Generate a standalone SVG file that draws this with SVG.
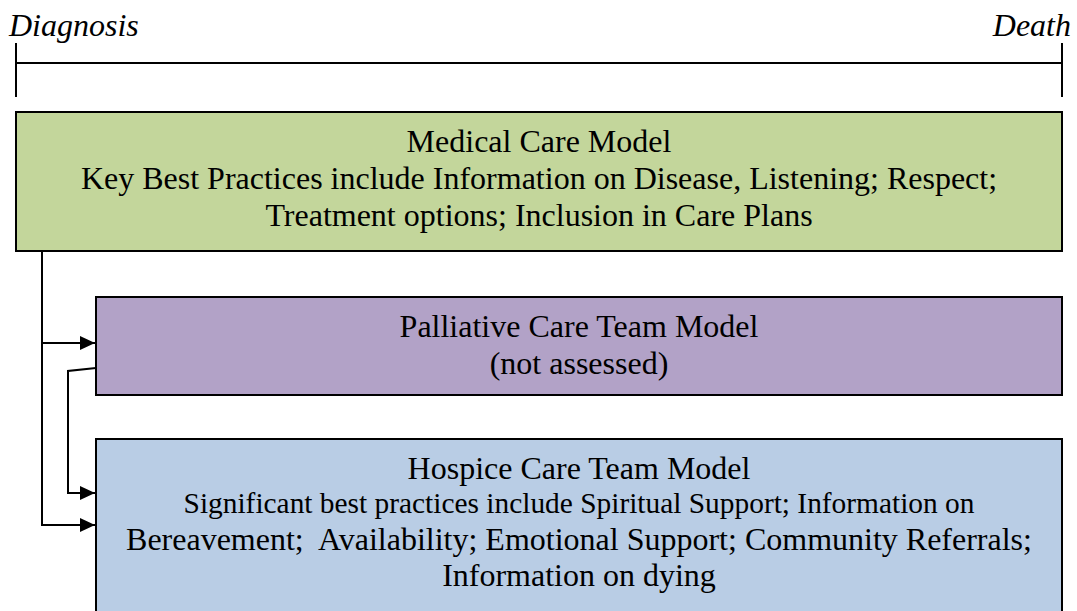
<svg xmlns="http://www.w3.org/2000/svg" width="1077" height="611" viewBox="0 0 1077 611" font-family="'Liberation Serif', 'Times New Roman', serif">
  <defs>
    <marker id="arrow" markerWidth="16" markerHeight="14" refX="15" refY="7" orient="auto" markerUnits="userSpaceOnUse">
      <path d="M0,0 L15,7 L0,14 Z" fill="#000"/>
    </marker>
    <style>
      .label { font-family: 'Liberation Serif', 'Times New Roman', serif; font-size: 32px; text-anchor: middle; fill: #000; }
      .small { font-family: 'Liberation Serif', 'Times New Roman', serif; font-size: 29.4px; text-anchor: middle; fill: #000; }
      .time { font-family: 'Liberation Serif', 'Times New Roman', serif; font-size: 32px; font-style: italic; fill: #000; }
      .box { stroke: #000; stroke-width: 2; }
      .line { stroke: #000; stroke-width: 2; fill: none; }
    </style>
  </defs>

  <!-- timeline from diagnosis to death -->
  <g id="timeline">
    <text class="time" x="9" y="36">Diagnosis</text>
    <text class="time" x="1071" y="36" text-anchor="end">Death</text>
    <line class="line" x1="16" y1="43" x2="16" y2="97"/>
    <line class="line" x1="1062" y1="43" x2="1062" y2="97"/>
    <line class="line" x1="16" y1="63" x2="1062" y2="63"/>
  </g>

  <g id="medical">
    <rect class="box" x="16" y="112" width="1046" height="139" fill="#C3D69B"/>
    <text class="label" x="539" y="152">Medical Care Model</text>
    <text class="label" x="539" y="189">Key Best Practices include Information on Disease, Listening; Respect;</text>
    <text class="label" x="539" y="226">Treatment options; Inclusion in Care Plans</text>
  </g>

  <g id="palliative">
    <rect class="box" x="96" y="297" width="966" height="98" fill="#B2A2C7"/>
    <text class="label" x="579" y="337">Palliative Care Team Model</text>
    <text class="label" x="579" y="374">(not assessed)</text>
  </g>

  <g id="hospice">
    <rect class="box" x="96" y="439" width="966" height="185" fill="#B9CDE5"/>
    <text class="label" x="579" y="479">Hospice Care Team Model</text>
    <text class="small" x="579" y="513">Significant best practices include Spiritual Support; Information on</text>
    <text class="label" x="579" y="550" xml:space="preserve">Bereavement;  Availability; Emotional Support; Community Referrals;</text>
    <text class="label" x="579" y="586">Information on dying</text>
  </g>

  <g id="connectors">
    <polyline class="line" points="42,251 42,525 95,525" marker-end="url(#arrow)"/>
    <polyline class="line" points="42,343 95,343" marker-end="url(#arrow)"/>
    <polyline class="line" points="96,368 68,371 68,493 95,493" marker-end="url(#arrow)"/>
  </g>
</svg>
